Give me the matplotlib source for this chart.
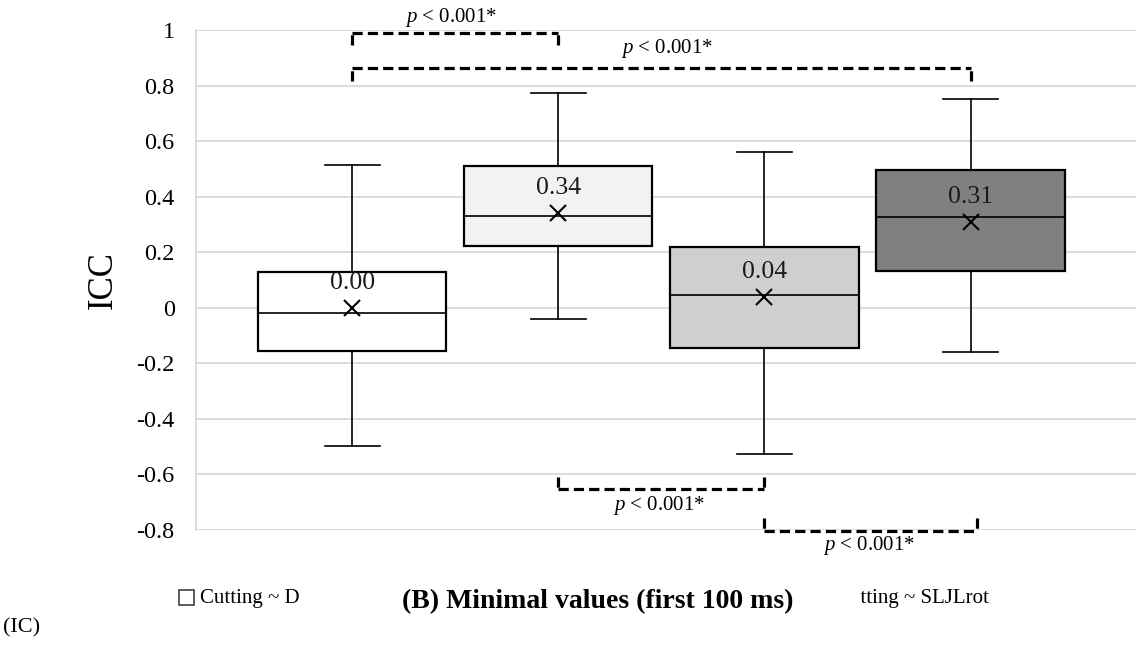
import matplotlib.pyplot as plt
from matplotlib.patches import Rectangle

plt.rcParams['font.family'] = ['Liberation Serif', 'DejaVu Serif']
plt.rcParams['mathtext.fontset'] = 'custom'
plt.rcParams['mathtext.rm'] = 'Liberation Serif'
plt.rcParams['mathtext.it'] = 'Liberation Serif:italic'

# ICC summary per comparison (min values, first 100 ms)
groups = ['Cutting ~ D', 'g2', 'g3', 'Cutting ~ SLJLrot']
whis_lo = [-0.499, -0.039, -0.526, -0.160]
q1 = [-0.155, 0.221, -0.144, 0.134]
medians = [-0.018, 0.329, 0.047, 0.328]
q3 = [0.129, 0.509, 0.219, 0.496]
whis_hi = [0.513, 0.774, 0.560, 0.753]
means = [0.00, 0.34, 0.04, 0.31]
colors = ['#ffffff', '#f2f2f2', '#d0cece', '#808080']

# significance brackets: (x0, x1, y, direction, text x, text y)
brackets = [(0, 1, 0.99, -1, 0.48, 1.045),
            (0, 3, 0.863, -1, 1.53, 0.935),
            (1, 2, -0.653, 1, 1.49, -0.712),
            (2, 3.03, -0.802, 1, 2.51, -0.857)]
p_text = r'$p$ < 0.001*'

fig = plt.figure(figsize=(11.36, 6.48), dpi=100)
ax = fig.add_axes([195.5 / 1136, 118 / 648, 940.5 / 1136, 500 / 648])

stats = []
for i in range(4):
    stats.append(dict(whislo=whis_lo[i], q1=q1[i], med=medians[i], q3=q3[i],
                      whishi=whis_hi[i], mean=means[i], fliers=[]))

bp = ax.bxp(stats, positions=range(4), widths=0.913, patch_artist=True,
            showmeans=True, capwidths=0.267,
            boxprops=dict(edgecolor='black', linewidth=1.6),
            medianprops=dict(color='black', linewidth=1.2),
            whiskerprops=dict(color='black', linewidth=1.2),
            capprops=dict(color='black', linewidth=1.2),
            meanprops=dict(marker='x', markersize=12, markeredgecolor='black',
                           markeredgewidth=1.5))
for patch, c in zip(bp['boxes'], colors):
    patch.set_facecolor(c)

for i in range(4):
    ax.annotate(f'{means[i]:.2f}', (i, means[i]), xytext=(0, 18),
                textcoords='offset points', ha='center', va='center',
                fontsize=18.5, color='#1a1a1a')

dash = (0, (3.2, 1.6))
for x0, x1, y, d, tx, ty in brackets:
    h = 0.045 * d
    ax.plot([x0, x1], [y, y], color='black', linestyle=dash,
            linewidth=2.3, clip_on=False)
    # end ticks drawn from the tip back to the bar
    for xe in (x0, x1):
        ax.plot([xe, xe], [y + h, y], color='black', linestyle=dash,
                linewidth=2.3, clip_on=False)
    ax.text(tx, ty, p_text, ha='center', va='center', fontsize=15)

ax.set_xlim(-0.761, 3.803)
ax.set_ylim(-0.8, 1.0)
ax.set_yticks([1, 0.8, 0.6, 0.4, 0.2, 0, -0.2, -0.4, -0.6, -0.8])
ax.set_yticklabels(['1', '0.8', '0.6', '0.4', '0.2', '0', '-0.2', '-0.4', '-0.6', '-0.8'],
                   fontsize=17.5)
ax.set_xticks([])
ax.tick_params(axis='y', length=0, pad=15)
ax.grid(axis='y', color='#d9d9d9', linewidth=1.3)
ax.set_axisbelow(True)
for s in ['top', 'right', 'bottom']:
    ax.spines[s].set_visible(False)
ax.spines['left'].set_color('#d9d9d9')
ax.spines['left'].set_linewidth(1.3)
ax.set_ylabel('ICC', fontsize=25, labelpad=12)

# legend entries; the title box sits on top of the middle ones
fig.patches.append(Rectangle((179 / 1136, 1 - 605 / 648), 15 / 1136, 15 / 648,
                             transform=fig.transFigure, facecolor='white',
                             edgecolor='#404040', linewidth=1.2))
fig.text(200 / 1136, 1 - 598 / 648, groups[0], fontsize=15, va='center')
fig.patches.append(Rectangle((814 / 1136, 1 - 605 / 648), 15 / 1136, 15 / 648,
                             transform=fig.transFigure, facecolor='#808080',
                             edgecolor='#404040', linewidth=1.2))
fig.text(836 / 1136, 1 - 598 / 648, groups[3], fontsize=15, va='center')
fig.patches.append(Rectangle((345 / 1136, 1 - 622 / 648), 515 / 1136, 44 / 648,
                             transform=fig.transFigure, facecolor='white',
                             edgecolor='none', zorder=4))

fig.text(598 / 1136, 1 - 602 / 648, '(B) Minimal values (first 100 ms)',
         fontsize=20, fontweight='bold', ha='center', va='center', zorder=5)
fig.text(3 / 1136, 1 - 628 / 648, '(IC)', fontsize=16, va='center')

fig.savefig('out.png', dpi=100)
